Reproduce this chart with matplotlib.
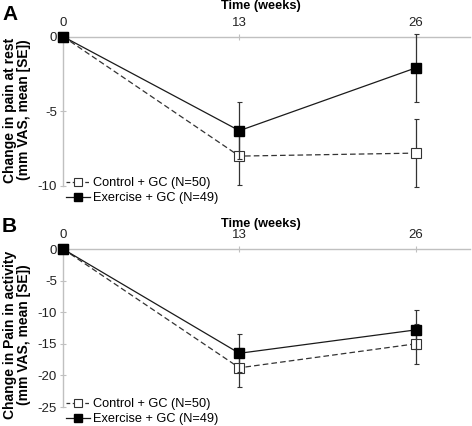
import matplotlib
matplotlib.use("Agg")
import matplotlib.pyplot as plt
from matplotlib.lines import Line2D

plt.rcParams["font.family"] = ["Liberation Sans", "DejaVu Sans"]

weeks = [0, 13, 26]

# panel A: pain at rest
rest_control = [0, -8.0, -7.8]
rest_control_se = [0, 1.9, 2.3]
rest_exercise = [0, -6.3, -2.1]
rest_exercise_se = [0, 1.9, 2.3]
rest_yticks = [0, -5, -10]

# panel B: pain in activity
act_control = [0, -18.8, -15.0]
act_control_se = [0, 3.1, 3.2]
act_exercise = [0, -16.5, -12.8]
act_exercise_se = [0, 3.0, 3.1]
act_yticks = [0, -5, -10, -15, -20, -25]

labels = ["Control + GC (N=50)", "Exercise + GC (N=49)"]
ylabels = ["Change in pain at rest\n(mm VAS, mean [SE])",
           "Change in Pain in activity\n(mm VAS, mean [SE])"]

W, H = 472, 426
FS = 8.7
TICK_FS = 9.5
AXIS_GREY = "#c0c0c0"

fig = plt.figure(figsize=(W / 100, H / 100), dpi=100)


def px_axes(left, top, right, bottom):
    return fig.add_axes([left / W, 1 - bottom / H, (right - left) / W, (bottom - top) / H])


def draw_panel(ax, ctrl, ctrl_se, ex, ex_se, yticks):
    ax.errorbar(weeks, ctrl, yerr=ctrl_se, fmt="s", linestyle=(0, (4.5, 2.5)),
                color="#333333", linewidth=0.9, markersize=6.5,
                markerfacecolor="white", markeredgecolor="#333333",
                markeredgewidth=0.8, ecolor="#333333", elinewidth=0.9,
                capsize=1.8, capthick=0.8, clip_on=False, zorder=4)
    ax.errorbar(weeks, ex, yerr=ex_se, fmt="s-", color="#1a1a1a",
                linewidth=0.9, markersize=6.5, markerfacecolor="black",
                markeredgecolor="black", ecolor="#333333", elinewidth=0.9,
                capsize=1.8, capthick=0.8, clip_on=False, zorder=5)

    ax.set_xlim(0, 30)
    ax.set_ylim(min(yticks), 0)
    ax.set_xticks(weeks)
    ax.set_yticks(yticks)
    ax.set_yticklabels([str(t) for t in yticks])
    ax.xaxis.tick_top()
    ax.set_facecolor("none")
    for side in ["right", "bottom"]:
        ax.spines[side].set_visible(False)
    for side in ["left", "top"]:
        ax.spines[side].set_color(AXIS_GREY)
        ax.spines[side].set_linewidth(1.0)
        ax.spines[side].set_zorder(1)
    ax.tick_params(axis="both", direction="inout", length=5, width=0.8,
                   color=AXIS_GREY, labelsize=TICK_FS, labelcolor="#222222", pad=2)
    ax.tick_params(axis="x", pad=3)

    handles = [
        Line2D([], [], color="#333333", linestyle=(0, (3, 2)), linewidth=0.9, marker="s",
               markersize=6, markerfacecolor="white", markeredgecolor="#333333",
               markeredgewidth=0.8),
        Line2D([], [], color="#1a1a1a", linewidth=0.9, marker="s", markersize=6,
               markerfacecolor="black", markeredgecolor="black"),
    ]
    return handles


ax_a = px_axes(63, 36.5, 470, 186)
ha = draw_panel(ax_a, rest_control, rest_control_se, rest_exercise, rest_exercise_se,
                rest_yticks)
ax_b = px_axes(63, 249, 470, 407)
hb = draw_panel(ax_b, act_control, act_control_se, act_exercise, act_exercise_se,
                act_yticks)

# panel letters and x titles
for letter, ly, ty in [("A", 15, 6), ("B", 227, 224)]:
    fig.text(2 / W, 1 - ly / H, letter, fontsize=15, fontweight="bold",
             ha="left", va="center")
    fig.text(261 / W, 1 - ty / H, "Time (weeks)", fontsize=FS + 0.5, fontweight="bold",
             ha="center", va="center")
for lab, yy in zip(ylabels, [110, 335]):
    fig.text(17 / W, 1 - yy / H, lab, fontsize=10, fontweight="bold", rotation=90,
             ha="center", va="center", linespacing=1.0)

# legends below the lower-left of each panel
for handles, top in [(ha, 177), (hb, 398)]:
    fig.legend(handles, labels, loc="upper left", bbox_to_anchor=(66 / W, 1 - top / H),
               frameon=False, fontsize=FS + 0.5, handlelength=1.9, handletextpad=0.25,
               labelspacing=0.25, borderpad=0, borderaxespad=0)

fig.savefig("out.png", dpi=100)
